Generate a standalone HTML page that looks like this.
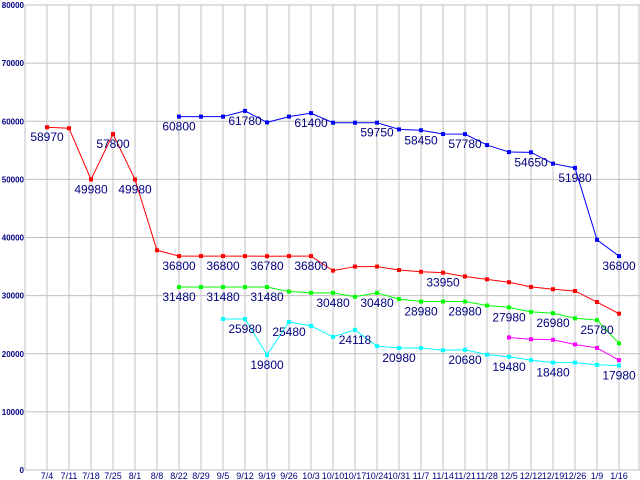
<!DOCTYPE html>
<html><head><meta charset="utf-8"><style>
html,body{margin:0;padding:0;background:#fff;}
svg{display:block;font-family:"Liberation Sans",sans-serif;}
</style></head><body>
<svg id="chart" width="640" height="480" viewBox="0 0 640 480"></svg>
<script>
const categories=["7/4","7/11","7/18","7/25","8/1","8/8","8/22","8/29","9/5","9/12","9/19","9/26","10/3","10/10","10/17","10/24","10/31","11/7","11/14","11/21","11/28","12/5","12/12","12/19","12/26","1/9","1/16"];
const yTicks=[0,10000,20000,30000,40000,50000,60000,70000,80000];
const redStart=0;
const redValues=[58970,58800,49980,57800,49980,37800,36800,36800,36800,36800,36780,36800,36800,34300,35000,35000,34400,34100,33950,33300,32800,32300,31500,31100,30800,28900,26900];
const blueStart=6;
const blueValues=[60800,60800,60800,61780,59800,60800,61400,59750,59750,59750,58600,58450,57800,57780,55900,54700,54650,52700,51980,39600,36800];
const greenStart=6;
const greenValues=[31480,31480,31480,31480,31480,30700,30480,30480,29800,30480,29400,28980,28980,28980,28300,27980,27200,26980,26100,25780,21800];
const cyanStart=8;
const cyanValues=[25980,25980,19800,25480,24800,22900,24118,21300,20980,20980,20600,20680,19850,19480,18900,18480,18480,18100,17980];
const magentaStart=21;
const magentaValues=[22800,22500,22400,21600,21000,18900];
const redLabels=[0,2,3,4,6,8,10,12,18];
const blueLabels=[6,9,12,15,17,19,22,24,26];
const greenLabels=[6,8,10,13,15,17,19,21,23,25];
const cyanLabels=[9,10,11,14,16,19,21,23,26];
const magentaLabels=[];

const svg=document.getElementById('chart');
const NS='http://www.w3.org/2000/svg';
const x0=47,dx=22,yBase=470,yTop=5,yMax=80000;
function xs(i){return x0+dx*i;}
function ys(v){return yBase-(v/yMax)*(yBase-yTop);}
function mk(tag,attrs){const e=document.createElementNS(NS,tag);for(const k in attrs)e.setAttribute(k,attrs[k]);svg.appendChild(e);return e;}

yTicks.forEach(t=>{
  const l=mk('line',{x1:25,x2:640,y1:ys(t),y2:ys(t),stroke:'#c0c0c0','stroke-width':1});
  
  
  const tx=mk('text',{x:24,y:ys(t)+3,'text-anchor':'end','font-size':8,'font-weight':'bold',fill:'#000080'});
  tx.textContent=t;
  
  
});
const yAxis=mk('line',{x1:25,x2:25,y1:yTop,y2:yBase,stroke:'#c0c0c0','stroke-width':1});


const rb=mk('line',{x1:639,x2:639,y1:yTop,y2:yBase,stroke:'#c0c0c0','stroke-width':1});


categories.forEach((c,i)=>{
  const l=mk('line',{x1:xs(i),x2:xs(i),y1:yTop,y2:yBase,stroke:'#c0c0c0','stroke-width':1});
  
  
  const tx=mk('text',{x:xs(i),y:479,'text-anchor':'middle','font-size':9,fill:'#000080'});
  tx.textContent=c;
  
  
});

function series(name,color,start,vals,labels){
  const pts=vals.map((v,k)=>xs(start+k)+','+ys(v)).join(' ');
  const pl=mk('polyline',{points:pts,fill:'none',stroke:color,'stroke-width':1});
  
  
  vals.forEach((v,k)=>{
    const r=mk('rect',{x:xs(start+k)-2,y:ys(v)-2,width:4,height:4,fill:color});
    
    
  });
  labels.forEach(i=>{
    const v=vals[i-start];
    const t=mk('text',{x:xs(i),y:ys(v)+14,'text-anchor':'middle','font-size':12,fill:'#000080'});
    t.textContent=v;
    
    
  });
}
series('red-series','#ff0000',redStart,redValues,redLabels);
series('blue-series','#0000ff',blueStart,blueValues,blueLabels);
series('green-series','#00ff00',greenStart,greenValues,greenLabels);
series('cyan-series','#00ffff',cyanStart,cyanValues,cyanLabels);
series('magenta-series','#ff00ff',magentaStart,magentaValues,magentaLabels);
</script>
</body></html>
